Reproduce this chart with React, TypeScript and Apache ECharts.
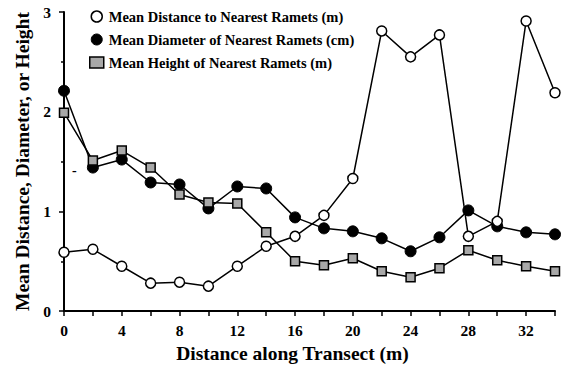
import React, { useEffect, useRef } from "react";
import * as echarts from "echarts";

const xValues = [0, 2, 4, 6, 8, 10, 12, 14, 16, 18, 20, 22, 24, 26, 28, 30, 32, 34];
const distanceM = [0.59, 0.62, 0.45, 0.28, 0.29, 0.25, 0.45, 0.65, 0.75, 0.96, 1.33, 2.81, 2.55, 2.77, 0.75, 0.9, 2.91, 2.19];
const diameterCm = [2.21, 1.44, 1.52, 1.29, 1.27, 1.03, 1.25, 1.23, 0.94, 0.83, 0.8, 0.73, 0.6, 0.74, 1.01, 0.85, 0.79, 0.77];
const heightM = [1.99, 1.51, 1.61, 1.44, 1.17, 1.09, 1.08, 0.79, 0.5, 0.46, 0.53, 0.4, 0.34, 0.43, 0.61, 0.51, 0.45, 0.4];
const seriesNames = [
  "Mean Distance to Nearest Ramets (m)",
  "Mean Diameter of Nearest Ramets (cm)",
  "Mean Height of Nearest Ramets (m)",
];

const FONT = "'Liberation Serif', 'DejaVu Serif', serif";
const GREY = "#a8a8a8";

export default function App() {
  const ref = useRef<HTMLDivElement>(null);
  useEffect(() => {
    if (!ref.current) return;
    const chart = echarts.init(ref.current, null, { renderer: "svg" });
    const pair = (vals: number[]) => xValues.map((x, i) => [x, vals[i]]);
    chart.setOption({
      animation: false,
      backgroundColor: "#fff",
      grid: { left: 64, right: 11, top: 12, bottom: 56 },
      legend: {
        orient: "vertical",
        left: 84,
        top: 4,
        itemGap: 8,
        itemWidth: 14,
        itemHeight: 11,
        textStyle: { fontFamily: FONT, fontWeight: "bold", fontSize: 14.5, color: "#000" },
        data: [
          { name: seriesNames[0], icon: "circle", itemStyle: { color: "#fff", borderColor: "#000", borderWidth: 1.5 } },
          { name: seriesNames[1], icon: "circle", itemStyle: { color: "#000", borderColor: "#000", borderWidth: 1 } },
          { name: seriesNames[2], icon: "rect", itemStyle: { color: GREY, borderColor: "#000", borderWidth: 1.5 } },
        ],
      },
      xAxis: {
        type: "value",
        min: 0,
        max: 34,
        interval: 4,
        name: "Distance along Transect (m)",
        nameLocation: "middle",
        nameGap: 31,
        nameTextStyle: { fontFamily: FONT, fontWeight: "bold", fontSize: 19.5, color: "#000", padding: [0, 34, 0, 0] },
        axisLine: { show: true, lineStyle: { color: "#000", width: 2 } },
        axisTick: { show: true, length: 5, lineStyle: { color: "#000", width: 1.5 } },
        minorTick: { show: true, splitNumber: 2, length: 5, lineStyle: { color: "#000", width: 1.5 } },
        axisLabel: { showMaxLabel: false, margin: 11, fontFamily: FONT, fontWeight: "bold", fontSize: 15.5, color: "#000" },
        splitLine: { show: false },
      },
      yAxis: {
        type: "value",
        min: 0,
        max: 3,
        interval: 1,
        name: "Mean Distance, Diameter, or Height",
        nameLocation: "middle",
        nameGap: 31,
        nameRotate: 90,
        nameTextStyle: { fontFamily: FONT, fontWeight: "bold", fontSize: 19.5, color: "#000" },
        axisLine: { show: true, lineStyle: { color: "#000", width: 2 } },
        axisTick: { show: true, length: 5, lineStyle: { color: "#000", width: 1.5 } },
        minorTick: { show: true, splitNumber: 2, length: 3, lineStyle: { color: "#000", width: 1.5 } },
        axisLabel: { margin: 13, fontFamily: FONT, fontWeight: "bold", fontSize: 15.5, color: "#000" },
        splitLine: { show: false },
      },
      graphic: [
        { type: "text", left: 72, top: 163, style: { text: "-", fontFamily: FONT, fontWeight: "bold", fontSize: 14, fill: "#000" } },
      ],
      series: [
        {
          name: seriesNames[0],
          type: "line",
          data: pair(distanceM),
          symbol: "circle",
          symbolSize: 10,
          z: 3,
          lineStyle: { color: "#000", width: 1.5 },
          itemStyle: { color: "#fff", borderColor: "#000", borderWidth: 1.5 },
        },
        {
          name: seriesNames[1],
          type: "line",
          data: pair(diameterCm),
          symbol: "circle",
          symbolSize: 11,
          z: 2,
          lineStyle: { color: "#000", width: 1.5 },
          itemStyle: { color: "#000", borderColor: "#000", borderWidth: 1 },
        },
        {
          name: seriesNames[2],
          type: "line",
          data: pair(heightM),
          symbol: "rect",
          symbolSize: 9,
          z: 2,
          lineStyle: { color: "#000", width: 1.5 },
          itemStyle: { color: GREY, borderColor: "#000", borderWidth: 1.5 },
        },
      ],
    });
    return () => chart.dispose();
  }, []);
  return <div ref={ref} style={{ width: 566, height: 368, position: "absolute", left: 0, top: 0 }} />;
}
